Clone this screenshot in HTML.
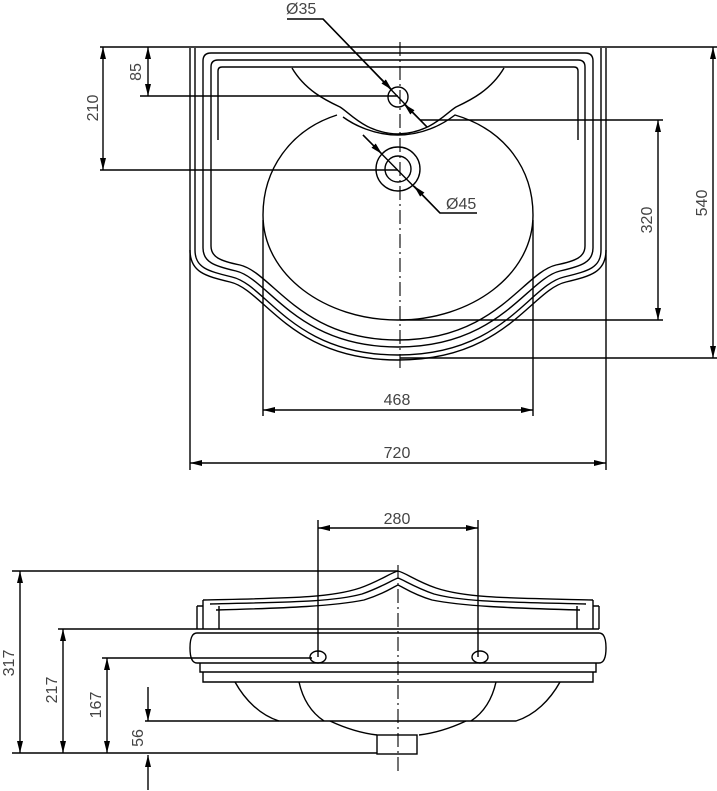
<!DOCTYPE html>
<html><head><meta charset="utf-8"><style>
html,body{margin:0;padding:0;background:#fff}
svg{display:block}
text{font-family:"Liberation Sans Narrow","Liberation Sans",sans-serif;font-size:16px;fill:#444}
</style></head><body>
<svg width="717" height="791" viewBox="0 0 717 791" xmlns="http://www.w3.org/2000/svg">
<defs>
<marker id="a" viewBox="0 0 12 6" refX="12" refY="3" markerWidth="12" markerHeight="6" markerUnits="userSpaceOnUse" orient="auto-start-reverse"><path d="M0,0 L12,3 L0,6 Z" fill="#000"/></marker>
</defs>
<g fill="none" stroke="#000" stroke-width="1.4">
<!-- TOP VIEW -->
<line x1="100" y1="47" x2="717" y2="47"/>
<path d="M190,48 L190,250 C190,272 205,276 230,282 C265,290 290,360 398,360 C506,360 531,290 566,282 C591,276 606,272 606,250 L606,48"/>
<path d="M195,48 L195,250 C195,268 208,271 232,277 C267,285 292,355 398,355 C504,355 529,285 564,277 C588,271 601,268 601,250 L601,48"/>
<path d="M211,53 H585 Q593,53 593,61 V248 C593,262 582,266 560,271 C527,279 500,347 398,347 C296,347 269,279 236,271 C214,266 203,262 203,248 V61 Q203,53 211,53 Z"/>
<path d="M218,60 H578 Q585,60 585,67 V246 C585,257 576,261 556,265 C523,273 496,340 398,340 C300,340 273,273 240,265 C220,261 211,257 211,246 V67 Q211,60 218,60 Z"/>
<path d="M218,140 V71 Q218,67 222,67 H574 Q578,67 578,71 V140"/>
<path d="M337,115 C290,130 263,170 263,215 C263,275 325,320 398,320 C471,320 533,275 533,215 C533,170 506,130 455,115 C442,125 422,135 398,135 C374,135 354,125 343,117"/>
<path d="M292,68 C305,90 325,100 340,107 C350,113 365,133 398,134 C431,133 446,113 456,107 C471,100 491,90 504,68"/>
<circle cx="398" cy="97" r="10"/>
<circle cx="398" cy="169" r="22"/>
<circle cx="398" cy="169" r="13"/>
<line x1="400" y1="42" x2="400" y2="368" stroke-dasharray="14,4,2,4" stroke-width="1.1"/>
<!-- leaders -->
<path d="M287,19 H323 L427,127" />
<line x1="323" y1="19" x2="392" y2="90" marker-end="url(#a)"/>
<line x1="427" y1="127" x2="404" y2="104" marker-end="url(#a)"/>
<path d="M363,135 L440,213 H477"/>
<line x1="363" y1="135" x2="382" y2="154" marker-end="url(#a)"/>
<line x1="440" y1="213" x2="414" y2="186" marker-end="url(#a)"/>
<!-- dims -->
<line x1="100" y1="170" x2="398" y2="170"/>
<line x1="140" y1="96" x2="398" y2="96"/>
<line x1="103" y1="47" x2="103" y2="170" marker-start="url(#a)" marker-end="url(#a)"/>
<line x1="148" y1="47" x2="148" y2="96" marker-start="url(#a)" marker-end="url(#a)"/>
<line x1="420" y1="120" x2="663" y2="120"/>
<line x1="400" y1="320" x2="663" y2="320"/>
<line x1="400" y1="358" x2="717" y2="358"/>
<line x1="658" y1="120" x2="658" y2="320" marker-start="url(#a)" marker-end="url(#a)"/>
<line x1="713" y1="47" x2="713" y2="358" marker-start="url(#a)" marker-end="url(#a)"/>
<line x1="263" y1="220" x2="263" y2="416"/>
<line x1="533" y1="220" x2="533" y2="416"/>
<line x1="263" y1="410" x2="533" y2="410" marker-start="url(#a)" marker-end="url(#a)"/>
<line x1="190" y1="250" x2="190" y2="470"/>
<line x1="606" y1="250" x2="606" y2="470"/>
<line x1="190" y1="463" x2="606" y2="463" marker-start="url(#a)" marker-end="url(#a)"/>

<!-- BOTTOM VIEW -->
<line x1="318" y1="520" x2="318" y2="657"/>
<line x1="478" y1="520" x2="478" y2="657"/>
<line x1="318" y1="528" x2="478" y2="528" marker-start="url(#a)" marker-end="url(#a)"/>
<path d="M203,600 C290,598 330,598 360,588 C380,581 390,573 398,571 C406,573 416,581 436,588 C466,598 506,598 593,600"/>
<path d="M210,604 C290,602 332,602 362,594 C382,587 392,580 398,578 C404,580 414,587 434,594 C464,602 506,602 586,604"/>
<path d="M216,610 C290,608 334,606 364,600 C384,594 393,587 398,585 C403,587 412,594 432,600 C462,606 506,608 580,610"/>
<path d="M203,600 V629 M593,600 V629 M197,606 V629 M599,606 V629 M197,606 H203 M593,606 H599 M219,606 V629 M577,606 V629"/>
<line x1="197" y1="629" x2="599" y2="629"/>
<path d="M197,633 H599 Q606,633 606,648 Q606,663 599,663 H197 Q190,663 190,648 Q190,633 197,633 Z"/>
<path d="M200,663 V672 H596 V663 M203,672 V682 H593 V672"/>
<ellipse cx="318" cy="657" rx="8" ry="6"/>
<ellipse cx="480" cy="657" rx="8" ry="6"/>
<path d="M235,682 C245,700 260,715 279,721 H516 C535,715 550,700 560,682"/>
<path d="M299,682 C303,700 312,713 324,721 M496,682 C492,700 483,713 471,721"/>
<path d="M330,721 C345,728 360,733 377,735 M466,721 C451,728 436,733 419,735"/>
<rect x="377" y="735" width="40" height="19"/>
<line x1="398" y1="565" x2="398" y2="775" stroke-dasharray="14,4,2,4" stroke-width="1.1"/>
<line x1="12" y1="571" x2="398" y2="571"/>
<line x1="12" y1="753" x2="377" y2="753"/>
<line x1="58" y1="629" x2="197" y2="629"/>
<line x1="102" y1="658" x2="312" y2="658"/>
<line x1="145" y1="721" x2="279" y2="721"/>
<line x1="20" y1="571" x2="20" y2="753" marker-start="url(#a)" marker-end="url(#a)"/>
<line x1="63" y1="629" x2="63" y2="753" marker-start="url(#a)" marker-end="url(#a)"/>
<line x1="107" y1="658" x2="107" y2="753" marker-start="url(#a)" marker-end="url(#a)"/>
<line x1="148" y1="687" x2="148" y2="721" marker-end="url(#a)"/>
<line x1="148" y1="790" x2="148" y2="755" marker-end="url(#a)"/>
</g>
<g>
<text x="286" y="14">Ø35</text>
<text x="446" y="209">Ø45</text>
<text x="397" y="405" text-anchor="middle">468</text>
<text x="397" y="458" text-anchor="middle">720</text>
<text x="397" y="524" text-anchor="middle">280</text>
<text transform="translate(98,108) rotate(-90)" text-anchor="middle">210</text>
<text transform="translate(141,72) rotate(-90)" text-anchor="middle">85</text>
<text transform="translate(652,220) rotate(-90)" text-anchor="middle">320</text>
<text transform="translate(707,203) rotate(-90)" text-anchor="middle">540</text>
<text transform="translate(14,663) rotate(-90)" text-anchor="middle">317</text>
<text transform="translate(57,690) rotate(-90)" text-anchor="middle">217</text>
<text transform="translate(101,705) rotate(-90)" text-anchor="middle">167</text>
<text transform="translate(143,738) rotate(-90)" text-anchor="middle">56</text>
</g>
</svg>
</body></html>
